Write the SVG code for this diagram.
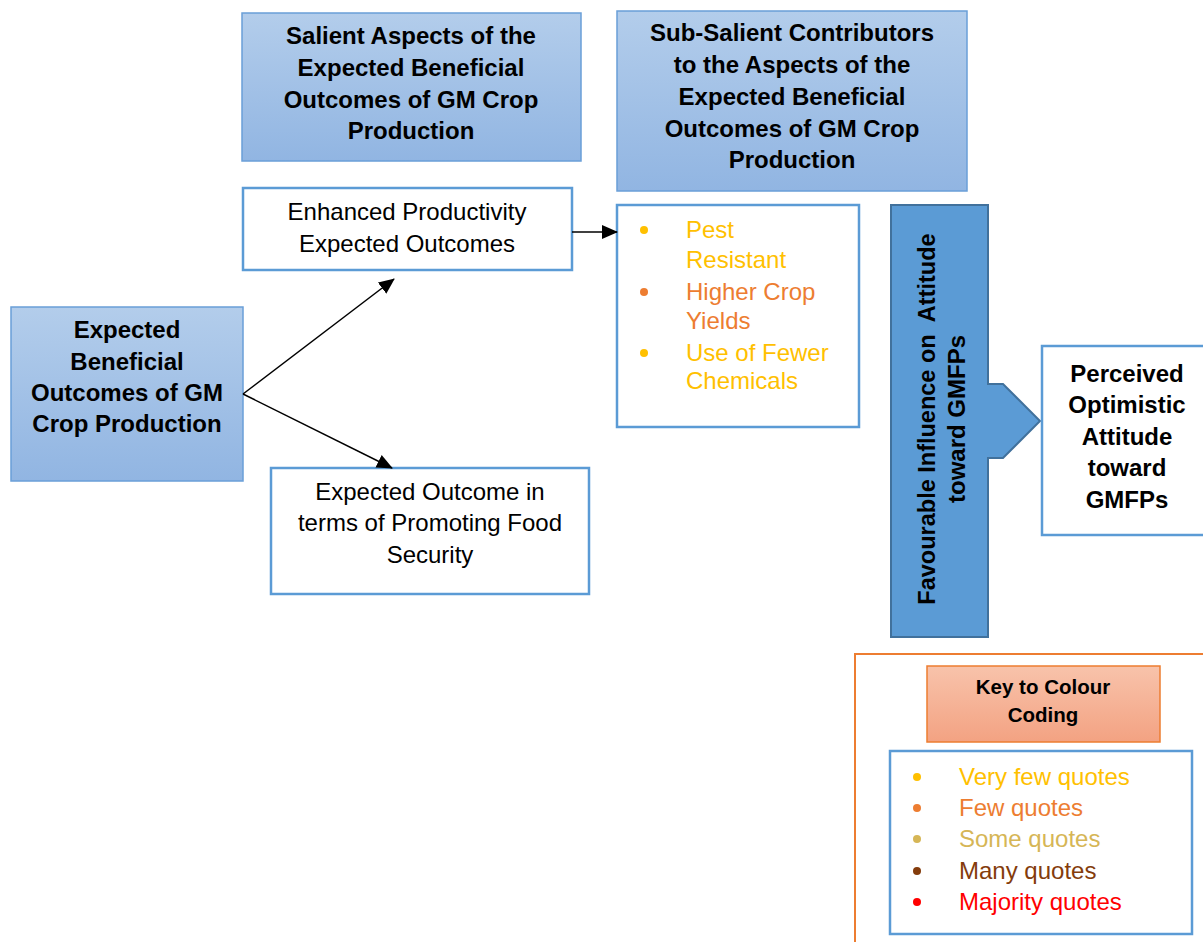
<svg xmlns="http://www.w3.org/2000/svg" width="1203" height="942" viewBox="0 0 1203 942">
  <defs>
    <linearGradient id="blueGrad" x1="0" y1="0" x2="0" y2="1">
      <stop offset="0" stop-color="#b3cdeb"/>
      <stop offset="1" stop-color="#91b5e2"/>
    </linearGradient>
    <linearGradient id="peachGrad" x1="0" y1="0" x2="0" y2="1">
      <stop offset="0" stop-color="#f8c3ab"/>
      <stop offset="1" stop-color="#f3a282"/>
    </linearGradient>
    <marker id="arrow" viewBox="0 0 16 14" refX="15" refY="7" markerWidth="16" markerHeight="14" markerUnits="userSpaceOnUse" orient="auto">
      <path d="M0,0 L16,7 L0,14 Z" fill="#000"/>
    </marker>
    <style>
      text { font-family: "Liberation Sans", Arial, sans-serif; font-size: 24px; fill: #000; }
      .b { font-weight: bold; }
      .c { text-anchor: middle; }
      .head { fill: url(#blueGrad); stroke: #6a9fd8; stroke-width: 1.5; }
      .box { fill: #fff; stroke: #5b9bd5; stroke-width: 2.5; }
      .conn { stroke: #000; stroke-width: 1.5; fill: none; }
      .vf { fill: #ffc000; }
      .fw { fill: #ed7d31; }
      .sm { fill: #d6b656; }
      .mn { fill: #843c0c; }
      .mj { fill: #ff0000; }
    </style>
  </defs>

  <rect width="1203" height="942" fill="#fff"/>

  <!-- column headers -->
  <g id="header-salient">
    <rect class="head" x="242" y="13" width="339" height="148"/>
    <text class="b c" x="411" y="44">Salient Aspects of the</text>
    <text class="b c" x="411" y="76">Expected Beneficial</text>
    <text class="b c" x="411" y="108">Outcomes of GM Crop</text>
    <text class="b c" x="411" y="139">Production</text>
  </g>

  <g id="header-subsalient">
    <rect class="head" x="617" y="11" width="350" height="180"/>
    <text class="b c" x="792" y="41">Sub-Salient Contributors</text>
    <text class="b c" x="792" y="73">to the Aspects of the</text>
    <text class="b c" x="792" y="105">Expected Beneficial</text>
    <text class="b c" x="792" y="137">Outcomes of GM Crop</text>
    <text class="b c" x="792" y="168">Production</text>
  </g>

  <!-- root node -->
  <g id="node-expected">
    <rect class="head" x="11" y="307" width="232" height="174"/>
    <text class="b c" x="127" y="338">Expected</text>
    <text class="b c" x="127" y="370">Beneficial</text>
    <text class="b c" x="127" y="401">Outcomes of GM</text>
    <text class="b c" x="127" y="432">Crop Production</text>
  </g>

  <g id="node-productivity">
    <rect class="box" x="243" y="188" width="329" height="82"/>
    <text class="c" x="407" y="220">Enhanced Productivity</text>
    <text class="c" x="407" y="252">Expected Outcomes</text>
  </g>

  <g id="node-food-security">
    <rect class="box" x="271" y="468" width="318" height="126"/>
    <text class="c" x="430" y="500">Expected Outcome in</text>
    <text class="c" x="430" y="531">terms of Promoting Food</text>
    <text class="c" x="430" y="563">Security</text>
  </g>

  <g id="node-contributors">
    <rect class="box" x="617" y="205" width="242" height="222"/>
    <circle class="vf" cx="644" cy="230" r="4"/>
    <text class="vf" x="686" y="238">Pest</text>
    <text class="vf" x="686" y="268">Resistant</text>
    <circle class="fw" cx="644" cy="292" r="4"/>
    <text class="fw" x="686" y="300">Higher Crop</text>
    <text class="fw" x="686" y="329">Yields</text>
    <circle class="vf" cx="644" cy="353" r="4"/>
    <text class="vf" x="686" y="361">Use of Fewer</text>
    <text class="vf" x="686" y="389">Chemicals</text>
  </g>

  <!-- influence arrow shape -->
  <g id="node-influence">
    <path d="M891,205 H988 V384 H1003 L1040,421 L1003,458 H988 V637 H891 Z" fill="#5b9bd5" stroke="#41719c" stroke-width="2"/>
    <g transform="translate(927,419) rotate(-90)">
      <text class="b c" x="0" y="8" style="font-size:23.5px" xml:space="preserve">Favourable Influence on  Attitude</text>
    </g>
    <g transform="translate(957,419) rotate(-90)">
      <text class="b c" x="0" y="8">toward GMFPs</text>
    </g>
  </g>

  <g id="node-attitude">
    <rect class="box" x="1042" y="346" width="170" height="189"/>
    <text class="b c" x="1127" y="382">Perceived</text>
    <text class="b c" x="1127" y="413">Optimistic</text>
    <text class="b c" x="1127" y="445">Attitude</text>
    <text class="b c" x="1127" y="476">toward</text>
    <text class="b c" x="1127" y="508">GMFPs</text>
  </g>

  <!-- colour key -->
  <g id="key">
    <rect x="855" y="654" width="360" height="300" fill="#fff" stroke="#ed7d31" stroke-width="2"/>
    <rect x="927" y="666" width="233" height="76" fill="url(#peachGrad)" stroke="#ed7d31" stroke-width="1.5"/>
    <text class="b c" x="1043" y="694" style="font-size:20.5px">Key to Colour</text>
    <text class="b c" x="1043" y="722" style="font-size:20.5px">Coding</text>
    <rect class="box" x="890" y="751" width="302" height="183"/>
    <circle class="vf" cx="917" cy="777" r="4"/>
    <text class="vf" x="959" y="785">Very few quotes</text>
    <circle class="fw" cx="917" cy="808" r="4"/>
    <text class="fw" x="959" y="816">Few quotes</text>
    <circle class="sm" cx="917" cy="839" r="4"/>
    <text class="sm" x="959" y="847">Some quotes</text>
    <circle class="mn" cx="917" cy="871" r="4"/>
    <text class="mn" x="959" y="879">Many quotes</text>
    <circle class="mj" cx="917" cy="902" r="4"/>
    <text class="mj" x="959" y="910">Majority quotes</text>
  </g>

  <!-- connectors -->
  <g id="connectors">
    <line class="conn" x1="243" y1="394" x2="394" y2="279" marker-end="url(#arrow)"/>
    <line class="conn" x1="243" y1="394" x2="392" y2="468" marker-end="url(#arrow)"/>
    <line class="conn" x1="572" y1="232" x2="617" y2="232" marker-end="url(#arrow)"/>
  </g>
</svg>
